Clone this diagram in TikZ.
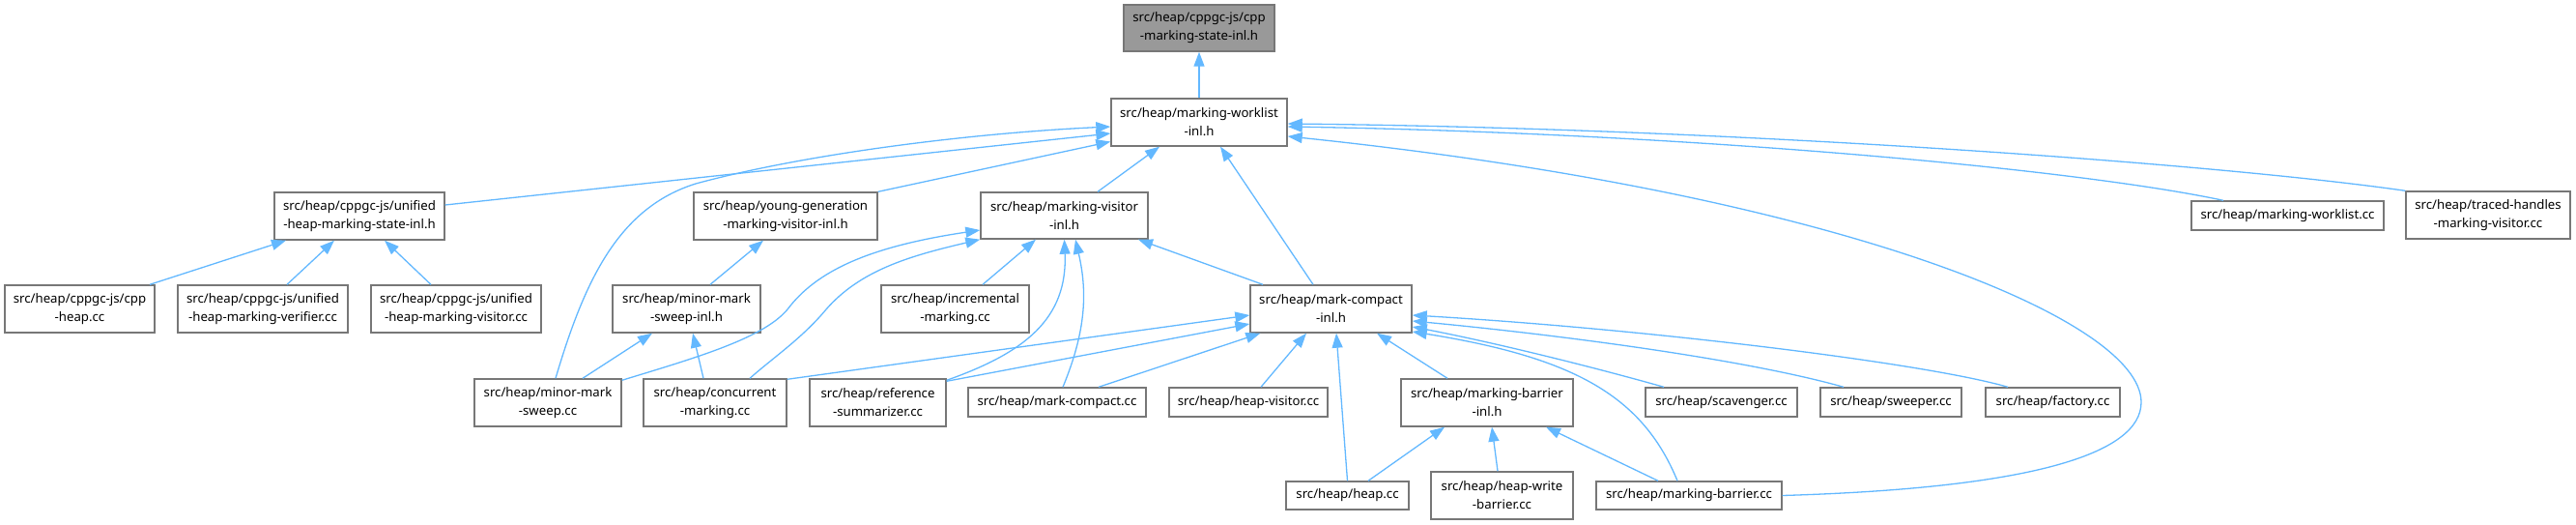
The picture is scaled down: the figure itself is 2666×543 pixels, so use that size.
\documentclass[tikz,border=0pt]{standalone}
\usepackage{fontspec}
\setmainfont{Noto Sans}
\usetikzlibrary{arrows.meta}
\definecolor{edgeblue}{HTML}{63B8FF}
\definecolor{boxgray}{HTML}{777777}
\definecolor{topfill}{HTML}{999999}
\tikzset{
  box/.style={draw=boxgray, line width=1.4pt, fill=white, inner sep=0pt, align=center,
    font=\fontsize{13.2pt}{19pt}\selectfont},
  topbox/.style={box, fill=topfill},
  edge/.style={draw=edgeblue, line width=1.3pt, -{Triangle[length=15pt,width=11pt]}},
}
\begin{document}
\begin{tikzpicture}[x=1pt,y=-1pt]
\useasboundingbox (0,0) rectangle (2666,543);
% nodes
\node[topbox, minimum width=156pt, minimum height=48pt] (top) at (1241,29) {src/heap/cppgc-js/cpp\\-marking-state-inl.h};
\node[box, minimum width=182pt, minimum height=49pt] (mwinl) at (1241,126.5) {src/heap/marking-worklist\\-inl.h};
\node[box, minimum width=176pt, minimum height=49pt] (unified) at (372,223.5) {src/heap/cppgc-js/unified\\-heap-marking-state-inl.h};
\node[box, minimum width=190pt, minimum height=49pt] (young) at (813,223.5) {src/heap/young-generation\\-marking-visitor-inl.h};
\node[box, minimum width=173pt, minimum height=48pt] (mvinl) at (1101.5,223) {src/heap/marking-visitor\\-inl.h};
\node[box, minimum width=199pt, minimum height=30pt] (mwcc) at (2367.5,223) {src/heap/marking-worklist.cc};
\node[box, minimum width=170pt, minimum height=49pt] (traced) at (2575,222.5) {src/heap/traced-handles\\-marking-visitor.cc};
\node[box, minimum width=155pt, minimum height=49pt] (cppheap) at (82.5,319.5) {src/heap/cppgc-js/cpp\\-heap.cc};
\node[box, minimum width=176pt, minimum height=49pt] (verifier) at (272,319.5) {src/heap/cppgc-js/unified\\-heap-marking-verifier.cc};
\node[box, minimum width=176pt, minimum height=49pt] (uvisitor) at (472,319.5) {src/heap/cppgc-js/unified\\-heap-marking-visitor.cc};
\node[box, minimum width=153pt, minimum height=49pt] (mmsinl) at (710.5,319.5) {src/heap/minor-mark\\-sweep-inl.h};
\node[box, minimum width=153pt, minimum height=49pt] (incr) at (988.5,319.5) {src/heap/incremental\\-marking.cc};
\node[box, minimum width=167pt, minimum height=49pt] (mcinl) at (1377.5,319.5) {src/heap/mark-compact\\-inl.h};
\node[box, minimum width=152pt, minimum height=49pt] (mmscc) at (567,416.5) {src/heap/minor-mark\\-sweep.cc};
\node[box, minimum width=148pt, minimum height=49pt] (conc) at (740,416.5) {src/heap/concurrent\\-marking.cc};
\node[box, minimum width=141pt, minimum height=49pt] (refsum) at (908.5,416.5) {src/heap/reference\\-summarizer.cc};
\node[box, minimum width=184pt, minimum height=30pt] (mccc) at (1094,416) {src/heap/mark-compact.cc};
\node[box, minimum width=164pt, minimum height=30pt] (heapvis) at (1292,416) {src/heap/heap-visitor.cc};
\node[box, minimum width=178pt, minimum height=49pt] (mbinl) at (1539,416.5) {src/heap/marking-barrier\\-inl.h};
\node[box, minimum width=157pt, minimum height=30pt] (scav) at (1781.5,416) {src/heap/scavenger.cc};
\node[box, minimum width=146pt, minimum height=30pt] (sweeper) at (1957,416) {src/heap/sweeper.cc};
\node[box, minimum width=139pt, minimum height=30pt] (factory) at (2124.5,416) {src/heap/factory.cc};
\node[box, minimum width=127pt, minimum height=29pt] (heapcc) at (1394.5,512.5) {src/heap/heap.cc};
\node[box, minimum width=147pt, minimum height=49pt] (hwb) at (1554.5,512.5) {src/heap/heap-write\\-barrier.cc};
\node[box, minimum width=192pt, minimum height=29pt] (mbcc) at (1748,512.5) {src/heap/marking-barrier.cc};
% edges
\draw[edge] (mwinl.north) -- (top.south);
\draw[edge] ([yshift=11.5pt]unified.east) -- ([yshift=-11.5pt]mwinl.west);
\draw[edge] (young.north east) -- ([yshift=-20pt]mwinl.west);
\draw[edge] ([xshift=34.5pt]mvinl.north) -- ([xshift=-41pt]mwinl.south);
\draw[edge] ([xshift=-18.5pt]mcinl.north) -- ([xshift=22pt]mwinl.south);
\draw[edge] ([xshift=8pt]mmscc.north) .. controls (605,290) and (640,215) .. (720,190) .. controls (830,160) and (1000,138) .. ([yshift=-4.5pt]mwinl.west);
\draw[edge] ([xshift=-66.5pt]mwcc.north) .. controls (2150,175) and (1750,138) .. ([yshift=-4.5pt]mwinl.east);
\draw[edge] (traced.north west) .. controls (2300,170) and (1800,133) .. ([yshift=-1.5pt]mwinl.east);
\draw[edge] (mbcc.east) .. controls (2100,505) and (2216,470) .. (2216,416) .. controls (2216,330) and (1900,200) .. ([yshift=-14.5pt]mwinl.east);
\draw[edge] ([xshift=72.5pt]cppheap.north) -- ([xshift=-76pt]unified.south);
\draw[edge] ([xshift=25pt]verifier.north) -- ([xshift=-26pt]unified.south);
\draw[edge] ([xshift=-26pt]uvisitor.north) -- ([xshift=26pt]unified.south);
\draw[edge] ([xshift=24.5pt]mmsinl.north) -- ([xshift=-23pt]young.south);
\draw[edge] ([xshift=36pt]mmscc.north) -- ([xshift=-35.5pt]mmsinl.south);
\draw[edge] ([xshift=-12pt]conc.north) -- ([xshift=6.5pt]mmsinl.south);
\draw[edge] ([yshift=-2pt]mmscc.north east) .. controls (720,370) and (790,350) .. (815,320) .. controls (845,280) and (900,255) .. ([yshift=-15pt]mvinl.west);
\draw[edge] ([xshift=36pt]conc.north) .. controls (800,370) and (830,350) .. (855,320) .. controls (890,280) and (940,265) .. (mvinl.south west);
\draw[edge] ([xshift=28.5pt]incr.north) -- ([xshift=-29.5pt]mvinl.south);
\draw[edge] ([yshift=-2pt]refsum.north east) .. controls (1060,365) and (1105,330) .. (mvinl.south);
\draw[edge] ([xshift=6pt]mccc.north) .. controls (1125,340) and (1125,300) .. ([xshift=11.5pt]mvinl.south);
\draw[edge] ([xshift=-70.5pt]mcinl.north) -- ([xshift=76.5pt]mvinl.south);
\draw[edge] ([yshift=-1pt]conc.north east) -- ([yshift=-6.5pt]mcinl.west);
\draw[edge] ([yshift=-3pt]refsum.north east) -- ([yshift=-15.5pt]mcinl.west);
\draw[edge] ([xshift=43pt]mccc.north) -- ([xshift=11pt]mcinl.south west);
\draw[edge] ([xshift=13pt]heapvis.north) -- ([xshift=-25.5pt]mcinl.south);
\draw[edge] (heapcc.north) -- ([xshift=5.5pt]mcinl.south);
\draw[edge] ([xshift=-41pt]mbinl.north) -- ([xshift=47.5pt]mcinl.south);
\draw[edge] ([xshift=-12pt]mbcc.north) .. controls (1700,410) and (1630,370) .. ([yshift=-23.5pt]mcinl.east);
\draw[edge] ([xshift=-59.5pt]scav.north) .. controls (1650,380) and (1550,355) .. ([yshift=-18.5pt]mcinl.east);
\draw[edge] ([xshift=-49pt]sweeper.north) .. controls (1800,370) and (1600,345) .. ([yshift=-12.5pt]mcinl.east);
\draw[edge] ([xshift=-46.5pt]factory.north) .. controls (1990,375) and (1700,340) .. ([yshift=-6.5pt]mcinl.east);
\draw[edge] ([xshift=21.5pt]heapcc.north) -- ([xshift=-44pt]mbinl.south);
\draw[edge] ([xshift=-4.5pt]hwb.north) -- ([xshift=5pt]mbinl.south);
\draw[edge] ([xshift=-32pt]mbcc.north) -- ([xshift=61pt]mbinl.south);
\end{tikzpicture}
\end{document}
